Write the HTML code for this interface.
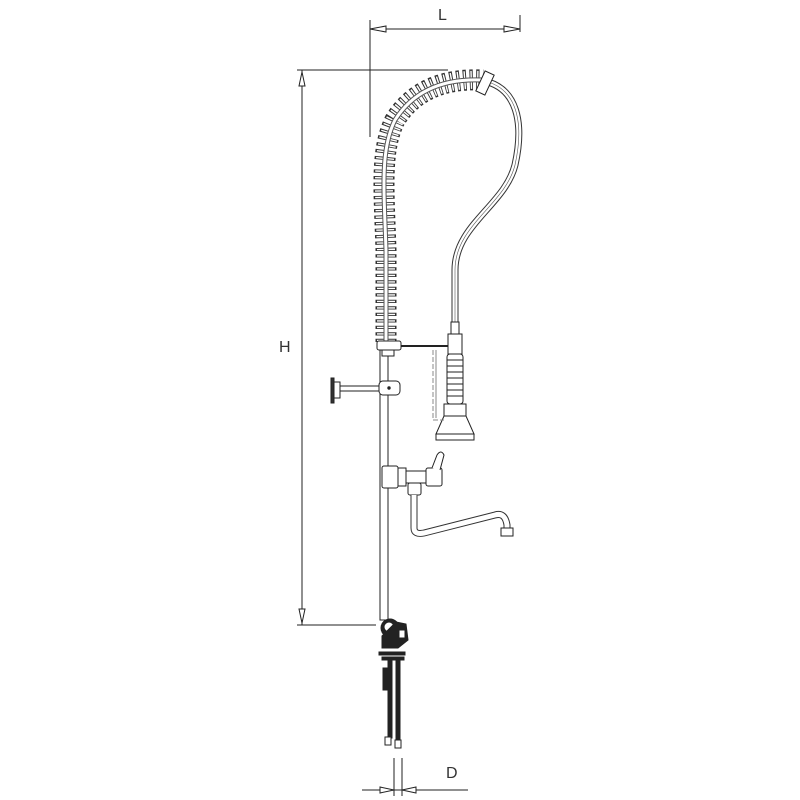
<!DOCTYPE html>
<html><head><meta charset="utf-8"><style>
html,body{margin:0;padding:0;background:#fff;width:800px;height:800px;overflow:hidden}
svg{display:block}
text{font-family:"Liberation Sans",sans-serif;fill:#333}
</style></head><body>
<svg width="800" height="800" viewBox="0 0 800 800" xmlns="http://www.w3.org/2000/svg" fill="none" stroke="#222" stroke-width="1">
<!-- L dimension -->
<line x1="370" y1="20" x2="370" y2="137"/>
<line x1="520" y1="15" x2="520" y2="32"/>
<line x1="370" y1="29" x2="520" y2="29"/>
<path d="M370,29 L386,26 L386,32 Z M520,29 L504,26 L504,32 Z" fill="#fff"/>
<text x="438" y="20" font-size="16" stroke="none">L</text>
<!-- H dimension -->
<line x1="297" y1="70" x2="448" y2="70"/>
<line x1="297" y1="625" x2="376" y2="625"/>
<line x1="302" y1="70" x2="302" y2="625"/>
<path d="M302,72 L299,86 L305,86 Z M302,623 L299,609 L305,609 Z" fill="#fff"/>
<text x="279" y="352" font-size="16" stroke="none">H</text>
<!-- hose -->
<path d="M488,82 C515,90 525,120 515,165 C505,205 455,225 455,270 L455,322" stroke-width="7" stroke="#333"/>
<path d="M488,82 C515,90 525,120 515,165 C505,205 455,225 455,270 L455,322" stroke-width="5" stroke="#fff"/>
<path d="M488,82 C515,90 525,120 515,165 C505,205 455,225 455,270 L455,322" stroke-width="0.6" stroke="#555"/>
<!-- spring -->
<path d="M386,342 L386,250 C384,190 380,150 395,120 C412,93 440,78 483,80" stroke-width="21" stroke="#333" stroke-dasharray="3.2 3.3"/>
<path d="M386,342 L386,250 C384,190 380,150 395,120 C412,93 440,78 483,80" stroke-width="18" stroke="#fff" stroke-dasharray="1.4 5.1" stroke-dashoffset="-0.9"/>
<path d="M386,342 L386,250 C384,190 380,150 395,120 C412,93 440,78 483,80" stroke-width="5" stroke="#555"/>
<path d="M386,342 L386,250 C384,190 380,150 395,120 C412,93 440,78 483,80" stroke-width="3" stroke="#fff"/>
<!-- hose head -->
<rect x="480" y="72" width="10" height="22" fill="#fff" transform="rotate(25 485 83)"/>
<!-- column -->
<rect x="380" y="350" width="8" height="270" fill="#fff"/>
<!-- top bracket -->
<rect x="377" y="341" width="24" height="9" rx="2" fill="#fff"/>
<rect x="382" y="350" width="12" height="6" fill="#fff"/>
<line x1="401" y1="346" x2="455" y2="346" stroke-width="2"/>
<!-- spray valve -->
<rect x="451" y="322" width="8" height="12" fill="#fff"/>
<rect x="448" y="334" width="14" height="20" fill="#fff"/>
<rect x="447" y="354" width="16" height="50" rx="3" fill="#fff"/>
<path d="M447,360h16M447,366h16M447,372h16M447,378h16M447,384h16M447,390h16M447,396h16"/>
<rect x="444" y="404" width="22" height="12" fill="#fff"/>
<path d="M444,416 L436,434 L474,434 L466,416 Z" fill="#fff"/>
<rect x="436" y="434" width="38" height="6" fill="#fff"/>
<path d="M433,350 L433,420 L444,420" stroke="#888" stroke-dasharray="5 2"/>
<line x1="436" y1="350" x2="436" y2="418" stroke="#888"/>
<!-- wall bracket -->
<rect x="331" y="378" width="3" height="25" fill="#333"/>
<rect x="334" y="382" width="6" height="16" fill="#fff"/>
<rect x="340" y="386" width="42" height="5" fill="#fff"/>
<rect x="379" y="381" width="21" height="14" rx="4" fill="#fff"/>
<circle cx="389" cy="388" r="1.2" fill="#222"/>
<!-- valve -->
<rect x="382" y="466" width="16" height="22" rx="2" fill="#fff"/>
<rect x="398" y="468" width="8" height="18" fill="#fff"/>
<rect x="406" y="471" width="22" height="12" fill="#fff"/>
<rect x="426" y="468" width="16" height="18" rx="2" fill="#fff"/>
<path d="M432,468 L437,455 Q441,449 444,455 L440,470" fill="#fff"/>
<rect x="408" y="483" width="13" height="12" rx="2" fill="#fff"/>
<!-- spout -->
<path d="M414,495 L414,528 Q414,535 424,533 L495,515 Q505,512 507,525 L507,530" stroke-width="7" stroke="#333"/>
<path d="M414,495 L414,528 Q414,535 424,533 L495,515 Q505,512 507,525 L507,530" stroke-width="5" stroke="#fff"/>
<rect x="501" y="528" width="12" height="8" fill="#fff"/>
<!-- bottom valve -->
<circle cx="390" cy="628" r="9" fill="#222"/>
<circle cx="389" cy="627" r="4" fill="#fff" stroke="#fff"/>
<path d="M396,622 L406,624 L408,640 L398,648 L382,648 L382,636 Z" fill="#222"/>
<rect x="399" y="630" width="6" height="8" fill="#fff"/>
<rect x="379" y="652" width="26" height="3" fill="#222"/>
<rect x="382" y="657" width="22" height="3" fill="#222"/>
<rect x="388" y="660" width="4" height="78" fill="#222"/>
<rect x="396" y="660" width="4" height="80" fill="#222"/>
<rect x="383" y="668" width="4" height="22" fill="#222"/>
<rect x="385" y="737" width="6" height="8" fill="#fff"/>
<rect x="395" y="740" width="6" height="8" fill="#fff"/>
<!-- D dimension -->
<line x1="394" y1="758" x2="394" y2="796"/>
<line x1="402" y1="758" x2="402" y2="796"/>
<line x1="362" y1="790" x2="468" y2="790"/>
<path d="M394,790 L380,787 L380,793 Z M402,790 L416,787 L416,793 Z" fill="#fff"/>
<text x="446" y="778" font-size="16" stroke="none">D</text>
</svg>
</body></html>
